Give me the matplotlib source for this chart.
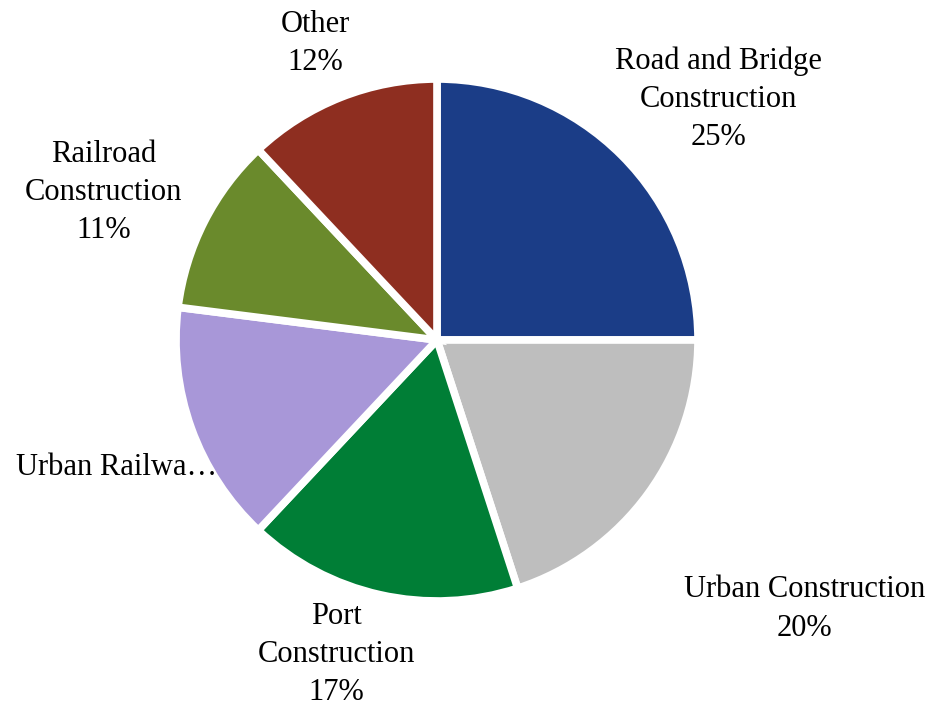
import matplotlib
matplotlib.use("Agg")
import matplotlib.pyplot as plt

plt.rcParams["font.family"] = ["Liberation Serif", "DejaVu Serif"]

categories = ["Road and Bridge\nConstruction", "Urban Construction", "Port\nConstruction",
              "Urban Railwa\u2026", "Railroad\nConstruction", "Other"]
shares = [25, 20, 17, 15, 11, 12]
show_pct = [True, True, True, False, True, True]
colors = ["#1B3D87", "#BEBEBE", "#007E36", "#A897D8", "#6A8A2C", "#8E2E20"]
# label centres, in pie radii from the centre
label_xy = [(1.077, 0.923), (1.408, -1.031), (-0.385, -1.205),
            (-1.227, -0.488), (-1.277, 0.565), (-0.465, 1.135)]

W, H = 932, 709
CX, CY, R = 437, 340, 261  # pie centre and radius in pixels

fig = plt.figure(figsize=(W / 100, H / 100), dpi=100)
ax = fig.add_axes([0, 0, 1, 1])

wedges, _ = ax.pie(shares, colors=colors, startangle=90, counterclock=False,
                   radius=1.0, wedgeprops=dict(edgecolor="white", linewidth=5.5))

total = sum(shares)
for name, val, pct, (x, y) in zip(categories, shares, show_pct, label_xy):
    txt = f"{name}\n{val / total:.0%}" if pct else name
    ax.text(x, y, txt, ha="center", va="center",
            fontsize=22, linespacing=1.42, color="black")

ax.set_xlim(-CX / R, (W - CX) / R)
ax.set_ylim(-(H - CY) / R, CY / R)
ax.set_aspect("auto")
ax.axis("off")

fig.savefig("out.png", dpi=100)
